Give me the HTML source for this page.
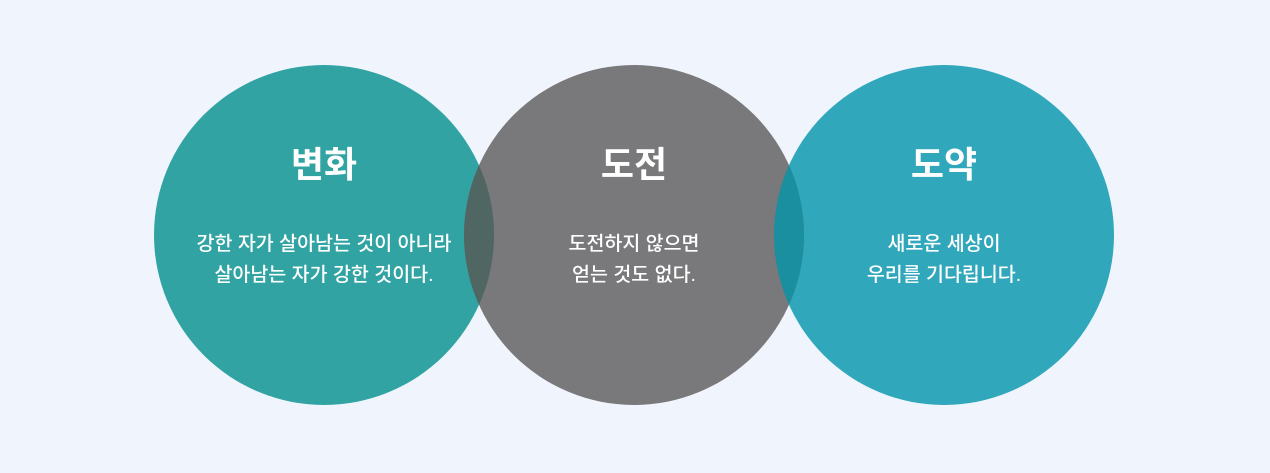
<!DOCTYPE html>
<html><head><meta charset="utf-8"><style>
html,body{margin:0;padding:0;background:#f0f5fd;}
svg{display:block}
text{font-family:"Liberation Sans","Noto Sans CJK KR","NanumGothic",sans-serif;fill:#fff;text-anchor:middle}
.t{font-size:36px;font-weight:bold}
.b{font-size:19.5px;font-weight:500}
</style></head><body>
<svg width="1270" height="473" viewBox="0 0 1270 473">
<rect width="1270" height="473" fill="#f0f5fd"/>
<defs>
<clipPath id="cl"><circle cx="324" cy="235" r="170"/></clipPath>
<clipPath id="cr"><circle cx="944" cy="235" r="170"/></clipPath>
</defs>
<circle cx="324" cy="235" r="170" fill="#31a3a3"/>
<circle cx="944" cy="235" r="170" fill="#31a7bb"/>
<circle cx="634" cy="235" r="170" fill="#79787a"/>
<circle cx="634" cy="235" r="170" fill="#4f6663" clip-path="url(#cl)"/>
<circle cx="634" cy="235" r="170" fill="#1a8f9f" clip-path="url(#cr)"/>
<text class="t" x="324" y="177">변화</text>
<text class="t" x="634" y="177">도전</text>
<text class="t" x="944" y="177">도약</text>
<text class="b" x="324" y="250">강한 자가 살아남는 것이 아니라</text>
<text class="b" x="324" y="281">살아남는 자가 강한 것이다.</text>
<text class="b" x="634" y="250">도전하지 않으면</text>
<text class="b" x="634" y="281">얻는 것도 없다.</text>
<text class="b" x="944" y="250">새로운 세상이</text>
<text class="b" x="944" y="281">우리를 기다립니다.</text>
</svg>
</body></html>
